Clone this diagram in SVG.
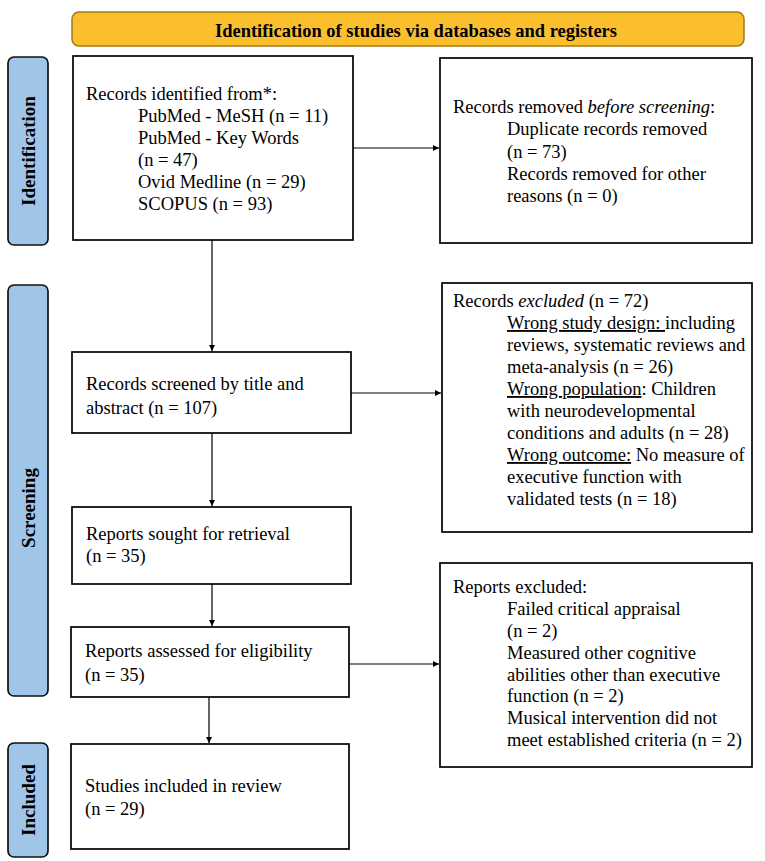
<svg xmlns="http://www.w3.org/2000/svg" width="765" height="861" viewBox="0 0 765 861">
<style>
.box{fill:#fff;stroke:#000;stroke-width:1.7}
.phase{fill:#9fc5e8;stroke:#111;stroke-width:1.7}
.t{font-family:"Liberation Serif","Times New Roman",serif;font-size:18.5px;fill:#000}
.lbl{font-family:"Liberation Serif","Times New Roman",serif;font-size:19px;font-weight:bold;fill:#000}
.u{text-decoration:underline}
.con{stroke:#000;stroke-width:1.2;fill:none;marker-end:url(#ah)}
</style>
<defs>
<marker id="ah" viewBox="0 0 10 10" refX="10" refY="5" markerWidth="8" markerHeight="6" markerUnits="userSpaceOnUse" orient="auto">
<path d="M0,0 L10,5 L0,10 z" fill="#000"/>
</marker>
</defs>
<rect width="765" height="861" fill="#fff"/>
<g id="banner">
<rect x="72" y="12" width="672" height="34" rx="7" fill="#fbbf2d" stroke="#a57a16" stroke-width="1.5"/>
<text class="lbl" x="416" y="36.5" text-anchor="middle" font-size="20.5" textLength="402" lengthAdjust="spacingAndGlyphs">Identification of studies via databases and registers</text>
</g>
<g id="phase-identification">
<rect class="phase" x="8" y="57" width="40" height="188" rx="6"/>
<text class="lbl" transform="translate(35,151) rotate(-90)" text-anchor="middle">Identification</text>
</g>
<g id="phase-screening">
<rect class="phase" x="8" y="285" width="40" height="411" rx="6"/>
<text class="lbl" transform="translate(35,508) rotate(-90)" text-anchor="middle">Screening</text>
</g>
<g id="phase-included">
<rect class="phase" x="8" y="743" width="40" height="114" rx="6"/>
<text class="lbl" transform="translate(35,800) rotate(-90)" text-anchor="middle">Included</text>
</g>
<g id="records-identified">
<rect class="box" x="73" y="56" width="280" height="184"/>
<text class="t" x="86" y="100">Records identified from*:</text>
<text class="t" x="138" y="122">PubMed - MeSH (n = 11)</text>
<text class="t" x="138" y="144">PubMed - Key Words</text>
<text class="t" x="138" y="166">(n = 47)</text>
<text class="t" x="138" y="188">Ovid Medline (n = 29)</text>
<text class="t" x="138" y="210">SCOPUS (n = 93)</text>
</g>
<g id="records-removed">
<rect class="box" x="440" y="58" width="312" height="185"/>
<text class="t" x="453" y="113">Records removed <tspan font-style="italic">before screening</tspan>:</text>
<text class="t" x="507" y="135">Duplicate records removed</text>
<text class="t" x="507" y="157.5">(n = 73)</text>
<text class="t" x="507" y="180">Records removed for other</text>
<text class="t" x="507" y="202">reasons (n = 0)</text>
</g>
<g id="records-screened">
<rect class="box" x="72" y="352" width="279" height="81"/>
<text class="t" x="86" y="390">Records screened by title and</text>
<text class="t" x="86" y="414">abstract (n = 107)</text>
</g>
<g id="records-excluded">
<rect class="box" x="442" y="283" width="310" height="249"/>
<text class="t" x="453" y="307">Records <tspan font-style="italic">excluded</tspan> (n = 72)</text>
<text class="t" x="507" y="329"><tspan class="u">Wrong study design: </tspan>including</text>
<text class="t" x="507" y="351">reviews, systematic reviews and</text>
<text class="t" x="507" y="373">meta-analysis (n = 26)</text>
<text class="t" x="507" y="395"><tspan class="u">Wrong population</tspan>: Children</text>
<text class="t" x="507" y="417">with neurodevelopmental</text>
<text class="t" x="507" y="439">conditions and adults (n = 28)</text>
<text class="t" x="507" y="461"><tspan class="u">Wrong outcome:</tspan> No measure of</text>
<text class="t" x="507" y="483">executive function with</text>
<text class="t" x="507" y="505">validated tests (n = 18)</text>
</g>
<g id="reports-sought">
<rect class="box" x="72" y="507" width="279" height="77"/>
<text class="t" x="86" y="540">Reports sought for retrieval</text>
<text class="t" x="86" y="562">(n = 35)</text>
</g>
<g id="reports-assessed">
<rect class="box" x="71" y="627" width="278" height="70"/>
<text class="t" x="85" y="657">Reports assessed for eligibility</text>
<text class="t" x="85" y="681">(n = 35)</text>
</g>
<g id="reports-excluded">
<rect class="box" x="440" y="563" width="312" height="204"/>
<text class="t" x="453" y="593">Reports excluded:</text>
<text class="t" x="507" y="615">Failed critical appraisal</text>
<text class="t" x="507" y="637">(n = 2)</text>
<text class="t" x="507" y="658.5">Measured other cognitive</text>
<text class="t" x="507" y="680.5">abilities other than executive</text>
<text class="t" x="507" y="702">function (n = 2)</text>
<text class="t" x="507" y="724">Musical intervention did not</text>
<text class="t" x="507" y="746">meet established criteria (n = 2)</text>
</g>
<g id="studies-included">
<rect class="box" x="71" y="744" width="278" height="105"/>
<text class="t" x="85" y="792">Studies included in review</text>
<text class="t" x="85" y="815">(n = 29)</text>
</g>
<g id="connectors">
<line class="con" x1="353" y1="148" x2="439" y2="148"/>
<line class="con" x1="212" y1="240" x2="212" y2="351"/>
<line class="con" x1="351" y1="393" x2="441" y2="393"/>
<line class="con" x1="212" y1="433" x2="212" y2="506"/>
<line class="con" x1="212" y1="584" x2="212" y2="626"/>
<line class="con" x1="349" y1="664" x2="439" y2="664"/>
<line class="con" x1="209" y1="697" x2="209" y2="743"/>
</g>
</svg>
